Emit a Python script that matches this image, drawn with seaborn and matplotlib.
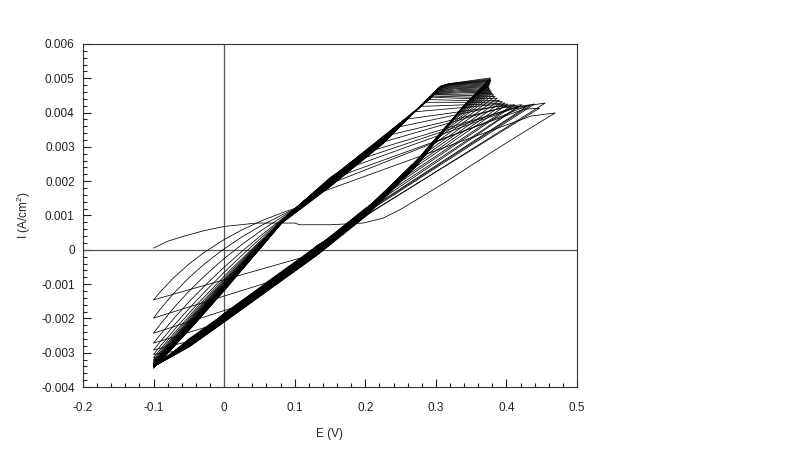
import matplotlib
matplotlib.use("Agg")
import matplotlib.pyplot as plt
import pandas as pd
import seaborn as sns
from matplotlib.path import Path
from matplotlib.patches import PathPatch
from matplotlib.ticker import MultipleLocator, FuncFormatter

# lower turning potential of every sweep (V)
E_LOW = -0.1

# current (A/cm2) at E = -0.1 V where each cycle starts; last value = end of last cycle
start_I = [0.00005, -0.00146, -0.00199, -0.00243, -0.00272, -0.00292, -0.00305, -0.00314,
           -0.00320, -0.00324, -0.00327, -0.00329, -0.00331, -0.00332, -0.00333, -0.00334,
           -0.00335, -0.00336, -0.00337, -0.00338, -0.00338, -0.00339, -0.00339, -0.00340,
           -0.00340, -0.00341, -0.00341, -0.00342, -0.00342, -0.00343, -0.00343, -0.00344,
           -0.00344, -0.00345, -0.00345]

# upper vertex of each cycle
vertex_E = [0.469, 0.455, 0.447, 0.440, 0.433, 0.427, 0.422, 0.417, 0.412, 0.407, 0.402, 0.398,
            0.394, 0.390, 0.387, 0.384, 0.382, 0.380, 0.379, 0.378, 0.377, 0.376, 0.376, 0.375,
            0.375, 0.376, 0.376, 0.377, 0.377, 0.377, 0.378, 0.378, 0.377, 0.377]
vertex_I = [0.00399, 0.00428, 0.00413, 0.00425, 0.00420, 0.00415, 0.00423, 0.00418, 0.00423,
            0.00420, 0.00425, 0.00428, 0.00432, 0.00436, 0.00442, 0.00447, 0.00452, 0.00456,
            0.00460, 0.00463, 0.00466, 0.00469, 0.00472, 0.00475, 0.00478, 0.00481, 0.00484,
            0.00487, 0.00490, 0.00492, 0.00494, 0.00496, 0.00498, 0.00501]

# first anodic sweep (cycle 1)
first_E = [-0.1, -0.08, -0.058, -0.03, 0.0, 0.046, 0.10, 0.107, 0.15, 0.197, 0.225, 0.25,
           0.28, 0.315, 0.35, 0.391, 0.43, 0.469]
first_I = [0.00005, 0.00025, 0.00039, 0.00055, 0.00068, 0.00078, 0.00078, 0.00073, 0.00073,
           0.00078, 0.00092, 0.00118, 0.00155, 0.00199, 0.00246, 0.00300, 0.00350, 0.00399]

# anodic sweeps of cycles 2..34: where they reach the lower band, and where they leave it
join_E = [0.120, 0.070, 0.020, -0.020, -0.050, -0.070, -0.080, -0.086, -0.090, -0.092,
          -0.094, -0.095, -0.096, -0.096, -0.097, -0.097, -0.098, -0.098, -0.098,
          -0.099, -0.099, -0.099, -0.099, -0.099, -0.099, -0.099, -0.099, -0.099, -0.099,
          -0.099, -0.099, -0.099, -0.099]
join_I = [-0.00017, -0.00090, -0.00164, -0.00222, -0.00267, -0.00296, -0.00311, -0.00320,
          -0.00325, -0.00328, -0.00331, -0.00333, -0.00334, -0.00334, -0.00336, -0.00336,
          -0.00337, -0.00337, -0.00337, -0.00339, -0.00339, -0.00339, -0.00339, -0.00339,
          -0.00339, -0.00339, -0.00339, -0.00339, -0.00339, -0.00339, -0.00339, -0.00339,
          -0.00339]
fork_E = [0.155, 0.165, 0.175, 0.185, 0.195, 0.205, 0.215, 0.225, 0.235, 0.245, 0.255, 0.265,
          0.275, 0.285, 0.295, 0.303, 0.310, 0.316, 0.321, 0.325, 0.328, 0.331, 0.333, 0.335,
          0.336, 0.337, 0.338, 0.339, 0.340, 0.340, 0.341, 0.341, 0.342]
fork_I = [0.00040, 0.00056, 0.00073, 0.00089, 0.00105, 0.00123, 0.00144, 0.00164, 0.00184,
          0.00205, 0.00225, 0.00246, 0.00267, 0.00290, 0.00314, 0.00333, 0.00349, 0.00364,
          0.00375, 0.00385, 0.00392, 0.00399, 0.00404, 0.00409, 0.00411, 0.00413, 0.00416,
          0.00418, 0.00420, 0.00420, 0.00423, 0.00423, 0.00425]

# cathodic sweeps: knee after the vertex, arrival on the upper band, departure from it
knee_E = [0.435, 0.430, 0.425, 0.418, 0.411, 0.405, 0.400, 0.395, 0.390, 0.385, 0.378, 0.372,
          0.366, 0.360, 0.355, 0.350, 0.346, 0.342, 0.339, 0.336, 0.334, 0.332, 0.330, 0.328,
          0.326, 0.325, 0.324, 0.323, 0.322, 0.321, 0.320, 0.319, 0.318, 0.318]
knee_I = [0.00390, 0.00420, 0.00410, 0.00418, 0.00415, 0.00410, 0.00418, 0.00414, 0.00420,
          0.00417, 0.00422, 0.00425, 0.00430, 0.00434, 0.00440, 0.00445, 0.00450, 0.00454,
          0.00458, 0.00461, 0.00464, 0.00467, 0.00470, 0.00472, 0.00474, 0.00476, 0.00478,
          0.00480, 0.00481, 0.00482, 0.00483, 0.00483, 0.00484, 0.00484]
rejoin_E = [0.120, 0.135, 0.150, 0.165, 0.180, 0.195, 0.210, 0.225, 0.240, 0.255, 0.268, 0.278,
            0.285, 0.290, 0.294, 0.296, 0.297, 0.298, 0.298, 0.299, 0.299, 0.300, 0.300, 0.301,
            0.301, 0.302, 0.302, 0.303, 0.303, 0.304, 0.304, 0.305, 0.306, 0.307]
rejoin_I = [0.00155, 0.00180, 0.00205, 0.00230, 0.00255, 0.00280, 0.00305, 0.00330, 0.00355,
            0.00380, 0.00402, 0.00418, 0.00430, 0.00438, 0.00445, 0.00448, 0.00452, 0.00453,
            0.00455, 0.00456, 0.00458, 0.00459, 0.00461, 0.00462, 0.00464, 0.00465, 0.00467,
            0.00468, 0.00470, 0.00471, 0.00473, 0.00474, 0.00476, 0.00478]
branch_E = [0.102, 0.100, 0.099, 0.098, 0.097, 0.096, 0.095, 0.094, 0.093, 0.092, 0.091, 0.090,
            0.090, 0.089, 0.089, 0.088, 0.088, 0.087, 0.087, 0.086, 0.086, 0.085, 0.085, 0.084,
            0.084, 0.083, 0.083, 0.082, 0.082, 0.081, 0.081, 0.080, 0.080, 0.079]
branch_I = [0.00122, 0.00119, 0.00117, 0.00115, 0.00114, 0.00112, 0.00110, 0.00109, 0.00107,
            0.00105, 0.00102, 0.00100, 0.00098, 0.00098, 0.00096, 0.00095, 0.00093, 0.00093,
            0.00091, 0.00091, 0.00089, 0.00088, 0.00086, 0.00086, 0.00084, 0.00084, 0.00082,
            0.00081, 0.00079, 0.00079, 0.00077, 0.00077, 0.00075, 0.00074]
# bend of the curved return to -0.1 V
bend_E = [-0.030, -0.030, -0.026, -0.025, -0.022, -0.026, -0.026, -0.026, -0.026, -0.026,
          -0.026, -0.026, -0.026, -0.026, -0.026, -0.026, -0.026, -0.026, -0.026, -0.026,
          -0.026, -0.026, -0.026, -0.026, -0.026, -0.026, -0.026, -0.026, -0.026, -0.026,
          -0.026, -0.026, -0.026, -0.026]
bend_I = [0.00035, 0.0, -0.00035, -0.00073, -0.00090, -0.00116, -0.00126, -0.00134, -0.00140,
          -0.00144, -0.00148, -0.00151, -0.00154, -0.00157, -0.00160, -0.00162, -0.00164,
          -0.00166, -0.00168, -0.00170, -0.00172, -0.00174, -0.00176, -0.00178, -0.00180,
          -0.00181, -0.00182, -0.00183, -0.00184, -0.00185, -0.00186, -0.00187, -0.00188,
          -0.00189]

# centre lines of the two dense bands
bandB_E = [-0.05, 0.0, 0.06, 0.131, 0.202, 0.273]
bandB_I = [-0.00267, -0.00194, -0.00105, 0.0, 0.00117, 0.00262]
bandA_E = [0.150, 0.226]
bandA_I = [0.00202, 0.00329]
# slow drift of the bands from cycle to cycle
driftB = [0.0, 0.00012, 0.00011, 0.00010, 0.00009, 0.00008, 0.00007, 0.00006, 0.00005, 0.00004,
          0.00003, 0.00002, 0.00001, 0.0, -0.00001, -0.00002, -0.00003, -0.00004, -0.00005,
          -0.00006, -0.00007, -0.00008, -0.00009, -0.00010, -0.00011, -0.00012, -0.00013,
          -0.00014, -0.00014, -0.00015, -0.00015, -0.00016, -0.00016, -0.00017]
driftA = [0.0, 0.00010, 0.00009, 0.00008, 0.00007, 0.00006, 0.00005, 0.00004, 0.00003, 0.00002,
          0.00001, 0.0, -0.00001, -0.00002, -0.00003, -0.00004, -0.00005, -0.00006, -0.00007,
          -0.00008, -0.00009, -0.00010, -0.00011, -0.00012, -0.00013, -0.00014, -0.00015,
          -0.00015, -0.00016, -0.00016, -0.00017, -0.00017, -0.00018, -0.00018]


def cycle_points(k):
    if k == 0:
        pts = list(zip(first_E, first_I))
    else:
        j = k - 1
        pts = [(E_LOW, start_I[k]), (join_E[j], join_I[j])]
        pts += [(e, i + driftB[k]) for e, i in zip(bandB_E, bandB_I) if join_E[j] < e < fork_E[j]]
        pts += [(fork_E[j], fork_I[j]), (vertex_E[k], vertex_I[k])]
    pts += [(knee_E[k], knee_I[k]), (rejoin_E[k], rejoin_I[k])]
    upper = [(e, i + driftA[k]) for e, i in zip(bandA_E, bandA_I) if branch_E[k] < e < rejoin_E[k]]
    pts += upper[::-1]
    pts += [(branch_E[k], branch_I[k])]
    return pts


def main():
    sns.set_theme(style="ticks")
    plt.rcParams["font.family"] = ["Liberation Sans", "DejaVu Sans"]
    plt.rcParams["mathtext.fontset"] = "custom"
    plt.rcParams["mathtext.rm"] = "Liberation Sans"
    plt.rcParams["mathtext.it"] = "Liberation Sans"

    rows = []
    for k in range(len(vertex_E)):
        for n, (e, i) in enumerate(cycle_points(k)):
            rows.append({"cycle": k, "n": n, "E": e, "I": i})
    df = pd.DataFrame(rows)

    fig = plt.figure(figsize=(8, 4.54), dpi=100)
    ax = fig.add_axes([83 / 800, 1 - 387 / 454, 494 / 800, 343 / 454])

    ax.axhline(0, color="#555555", lw=0.9, zorder=1)
    ax.axvline(0, color="#555555", lw=0.9, zorder=1)

    sns.lineplot(data=df, x="E", y="I", units="cycle", estimator=None, sort=False,
                 color="black", lw=0.55, legend=False, ax=ax, zorder=2)

    # curved returns to -0.1 V
    for k in range(len(vertex_E)):
        path = Path([(branch_E[k], branch_I[k]), (bend_E[k], bend_I[k]), (E_LOW, start_I[k + 1])],
                    [Path.MOVETO, Path.CURVE3, Path.CURVE3])
        ax.add_patch(PathPatch(path, fill=False, edgecolor="black", lw=0.55, zorder=2))

    ax.set_xlim(-0.2, 0.5)
    ax.set_ylim(-0.004, 0.006)
    ax.xaxis.set_major_locator(MultipleLocator(0.1))
    ax.xaxis.set_minor_locator(MultipleLocator(0.02))
    ax.yaxis.set_major_locator(MultipleLocator(0.001))
    ax.yaxis.set_minor_locator(MultipleLocator(0.0002))
    fmt = FuncFormatter(lambda v, pos: "0" if abs(v) < 1e-9 else f"{v:g}")
    ax.xaxis.set_major_formatter(fmt)
    ax.yaxis.set_major_formatter(fmt)
    ax.tick_params(which="both", direction="in", top=False, right=False, width=0.8,
                   colors="#222222", labelsize=8.5)
    ax.tick_params(which="major", length=6)
    ax.tick_params(which="minor", length=3)
    ax.tick_params(axis="x", pad=11)
    ax.tick_params(axis="y", pad=6)
    for side in ["top", "right", "bottom", "left"]:
        ax.spines[side].set_visible(True)
        ax.spines[side].set_color("#333333")
        ax.spines[side].set_linewidth(0.8)

    ax.set_xlabel("E (V)", fontsize=8.5, labelpad=10)
    ax.set_ylabel("I (A/cm$^2$)", fontsize=8.5, labelpad=6)

    fig.savefig("out.png", dpi=100)
    plt.close(fig)


if __name__ == "__main__":
    main()
